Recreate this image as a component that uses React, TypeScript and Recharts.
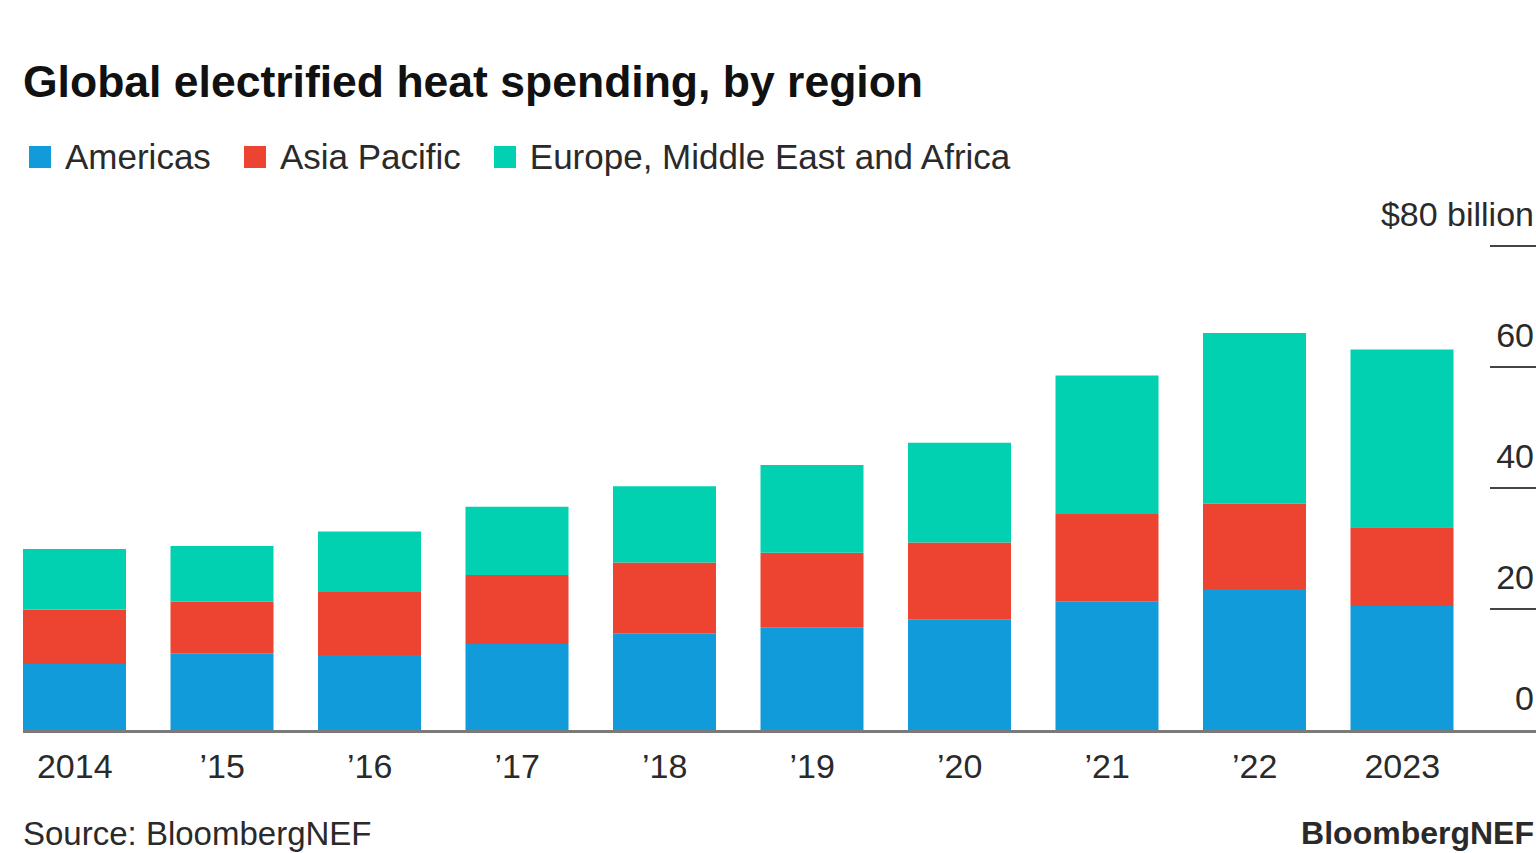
import React from 'react'
import { BarChart, Bar, XAxis, YAxis } from 'recharts'

// ── Data ($ billion) ───────────────────────────────────────────────────────
const YEARS        = ['2014', '’15', '’16', '’17', '’18', '’19', '’20', '’21', '’22', '2023']
const AMERICAS     = [10.9, 12.7, 12.4, 14.2, 16.0, 16.9, 18.3, 21.2, 23.3, 20.5]
const ASIA_PACIFIC = [9.0, 8.5, 10.4, 11.4, 11.7, 12.4, 12.7, 14.5, 14.1, 13.0]
const EMEA         = [10.0, 9.2, 10.0, 11.3, 12.6, 14.5, 16.5, 22.9, 28.2, 29.4]
const Y_TICKS      = [0, 20, 40, 60, 80]

const SERIES = [
  { key: 'americas', name: 'Americas', color: '#129bda' },
  { key: 'asiaPacific', name: 'Asia Pacific', color: '#ec4431' },
  { key: 'emea', name: 'Europe, Middle East and Africa', color: '#02d1b1' },
]

const data = YEARS.map((year, i) => ({
  year,
  americas: AMERICAS[i],
  asiaPacific: ASIA_PACIFIC[i],
  emea: EMEA[i],
}))

const FONT = '"Liberation Sans", Arial, Helvetica, sans-serif'
const TEXT = '#2a2a2a'
const BASELINE_LEFT = 23

// ── Right-hand value axis: label sits above a short rule ──────────────────
function ValueTick({ x, y, payload }: any) {
  const v = payload.value
  const isZero = v === 0
  return (
    <g>
      <line
        x1={isZero ? BASELINE_LEFT : x + 14}
        x2={x + 62}
        y1={isZero ? y + 1.5 : y}
        y2={isZero ? y + 1.5 : y}
        stroke={isZero ? '#7a7a7a' : '#444'}
        strokeWidth={isZero ? 3 : 2}
      />
      <text x={x + 58} y={y - 20} textAnchor="end" fontSize={34} fontFamily={FONT} fill={TEXT}>
        {v === 80 ? '$80 billion' : v}
      </text>
    </g>
  )
}

export default function App() {
  return (
    <div style={{ position: 'absolute', left: 0, top: 0, width: 1536, height: 853, overflow: 'hidden', background: '#fff', fontFamily: FONT }}>
      <div style={{ position: 'absolute', left: 23, top: 60, fontSize: 44.5, lineHeight: 1, fontWeight: 700, color: '#111', whiteSpace: 'nowrap' }}>
        Global electrified heat spending, by region
      </div>

      {/* Legend */}
      <div style={{ position: 'absolute', left: 29, top: 139, display: 'flex', alignItems: 'center', fontSize: 35, lineHeight: 1, color: TEXT, whiteSpace: 'nowrap' }}>
        {SERIES.map((s) => (
          <div key={s.key} style={{ display: 'flex', alignItems: 'center', marginRight: 33 }}>
            <div style={{ width: 22, height: 22, background: s.color, marginRight: 14 }} />
            <span>{s.name}</span>
          </div>
        ))}
      </div>

      <div style={{ position: 'absolute', left: 0, top: 0 }}>
        <BarChart width={1536} height={853} data={data} margin={{ top: 246, right: 0, bottom: 93, left: 1 }}>
          <XAxis
            dataKey="year"
            height={30}
            axisLine={false}
            tickLine={false}
            tickSize={0}
            tickMargin={24}
            interval={0}
            tick={{ fontSize: 34, fill: TEXT, fontFamily: FONT }}
          />
          <YAxis
            orientation="right"
            width={60}
            domain={[0, 80]}
            ticks={Y_TICKS}
            interval={0}
            axisLine={false}
            tickLine={false}
            tickSize={0}
            tickMargin={0}
            tick={<ValueTick />}
          />
          {SERIES.map((s) => (
            <Bar key={s.key} dataKey={s.key} name={s.name} stackId="r" fill={s.color} barSize={103} isAnimationActive={false} />
          ))}
        </BarChart>
      </div>

      {/* Footer */}
      <div style={{ position: 'absolute', left: 23, top: 817, fontSize: 33, lineHeight: 1, color: TEXT, whiteSpace: 'nowrap' }}>
        Source: BloombergNEF
      </div>
      <div style={{ position: 'absolute', right: 2, top: 817, fontSize: 32, lineHeight: 1, fontWeight: 700, color: TEXT, whiteSpace: 'nowrap' }}>
        BloombergNEF
      </div>
    </div>
  )
}
